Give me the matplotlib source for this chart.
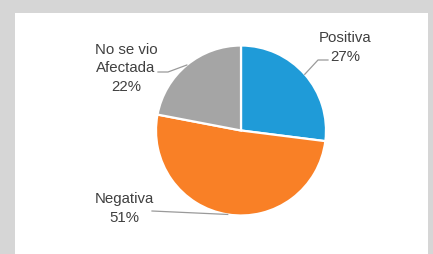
"""Pie chart: percepción del impacto (Positiva / Negativa / No se vio Afectada)."""
import numpy as np
import matplotlib
matplotlib.use("Agg")
import matplotlib.pyplot as plt
from matplotlib.patches import Rectangle

labels = ["Positiva", "Negativa", "No se vio\nAfectada"]
values = [27, 51, 22]
colors = ["#1f9bd8", "#f98026", "#a5a5a5"]

W, H = 433, 255
plt.rcParams["font.family"] = ["Liberation Sans", "DejaVu Sans"]

fig = plt.figure(figsize=(W / 100, H / 100), dpi=100)
fig.patch.set_facecolor("#d6d6d6")
ax = fig.add_axes([0, 0, 1, 1])

# white panel inside grey frame
ax.add_patch(Rectangle((15, 0), 413, H - 14, facecolor="white", edgecolor="none", zorder=0))

cx, cy, r = 241, H - 131.5, 85
wedges, _ = ax.pie(values, colors=colors, startangle=90, counterclock=False,
                   center=(cx, cy), radius=r, frame=True,
                   wedgeprops=dict(edgecolor="white", linewidth=1.6))
ax.set_xlim(0, W)
ax.set_ylim(0, H)
ax.axis("off")

# label block centre (pixels), elbow points for leader lines
text_pos = [(345, 47.5), (124, 208.5), (126, 68.5)]
elbows = [[(318, 61), (328, 61)], [(152, 212)], [(168, 73), (158, 73)]]

for w, lab, v, tp, elb in zip(wedges, labels, values, text_pos, elbows):
    mid = np.deg2rad((w.theta1 + w.theta2) / 2)
    sx, sy = cx + r * np.cos(mid), cy + r * np.sin(mid)
    xs = [sx] + [p[0] for p in elb]
    ys = [sy] + [H - p[1] for p in elb]
    ax.plot(xs, ys, color="#9a9a9a", lw=0.9, zorder=3)
    ax.text(tp[0], H - tp[1], f"{lab}\n{v}%", ha="center", va="center",
            fontsize=10.8, color="#404040", linespacing=1.4, zorder=4)

fig.savefig("out.png", dpi=100, facecolor=fig.get_facecolor())
